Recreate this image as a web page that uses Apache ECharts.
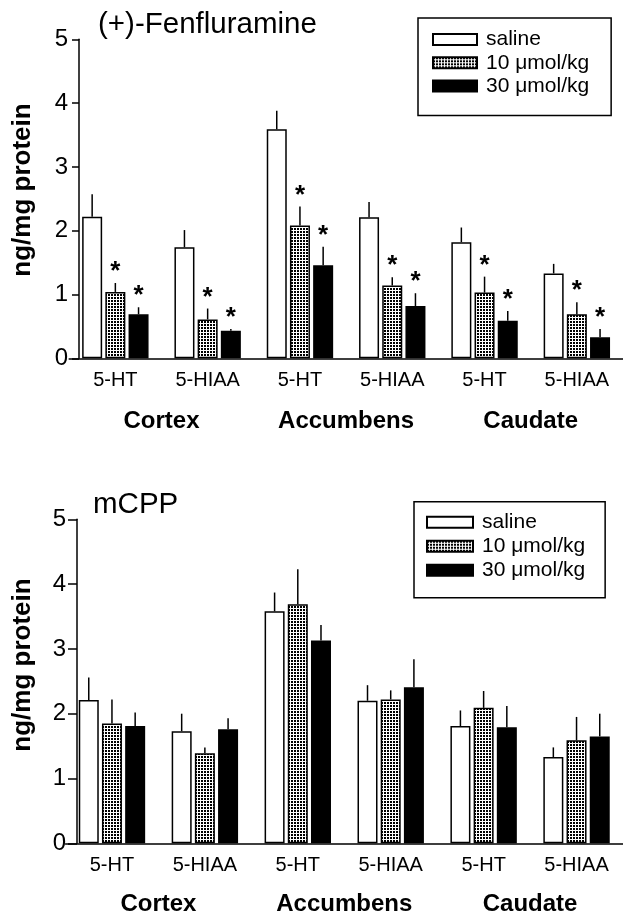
<!DOCTYPE html>
<html>
<head>
<meta charset="utf-8">
<script src="https://cdn.jsdelivr.net/npm/echarts/dist/echarts.min.js"></script>
<style>
html,body{margin:0;padding:0;background:#fff;}
#chart{width:623px;height:917px;}
</style>
</head>
<body>
<div id="chart"></div>
<script>
// ---------- data ----------
const categories = ['5-HT', '5-HIAA', '5-HT', '5-HIAA', '5-HT', '5-HIAA'];
const regions = ['Cortex', 'Accumbens', 'Caudate'];
const seriesNames = ['saline', '10 μmol/kg', '30 μmol/kg'];
const yTicks = [0, 1, 2, 3, 4, 5];
const titles = ['(+)-Fenfluramine', 'mCPP'];
const yAxisName = 'ng/mg protein';

// (+)-Fenfluramine panel
const fenSaline    = [2.22, 1.74, 3.59, 2.21, 1.82, 1.33];
const fenSalineSem = [0.35, 0.27, 0.29, 0.24, 0.23, 0.15];
const fen10        = [1.04, 0.61, 2.08, 1.14, 1.03, 0.69];
const fen10Sem     = [0.14, 0.17, 0.30, 0.13, 0.25, 0.19];
const fen30        = [0.69, 0.43, 1.46, 0.82, 0.59, 0.33];
const fen30Sem     = [0.11, 0.03, 0.29, 0.20, 0.15, 0.13];
const fenSalineStar = [0, 0, 0, 0, 0, 0];
const fen10Star     = [1, 1, 1, 1, 1, 1];
const fen30Star     = [1, 1, 1, 1, 1, 1];

// mCPP panel
const mcppSaline    = [2.21, 1.73, 3.58, 2.20, 1.81, 1.33];
const mcppSalineSem = [0.35, 0.27, 0.29, 0.24, 0.24, 0.15];
const mcpp10        = [1.85, 1.39, 3.69, 2.22, 2.09, 1.59];
const mcpp10Sem     = [0.37, 0.09, 0.54, 0.14, 0.26, 0.36];
const mcpp30        = [1.81, 1.76, 3.13, 2.41, 1.79, 1.65];
const mcpp30Sem     = [0.21, 0.17, 0.24, 0.43, 0.33, 0.35];
const mcppStar      = [0, 0, 0, 0, 0, 0];

// ---------- styling ----------
const FONT = '"Liberation Sans", Arial, Helvetica, sans-serif';
function makeDots() {
  const c = document.createElement('canvas');
  c.width = 3; c.height = 3;
  const g = c.getContext('2d');
  g.fillStyle = '#fff'; g.fillRect(0, 0, 3, 3);
  g.fillStyle = '#000';
  g.fillRect(0, 0, 2, 2);
  return c;
}
const dotPattern = { image: makeDots(), repeat: 'repeat' };
const barStyles = [
  { color: '#fff', borderColor: '#000', borderWidth: 1.5 },
  { color: dotPattern, borderColor: '#000', borderWidth: 1.5 },
  { color: '#000', borderColor: '#000', borderWidth: 1.5 }
];
const BAR_W = 20, BAR_STEP = 23.2;

function errRender(offset) {
  return function (params, api) {
    const i = api.value(0), m = api.value(1), s = api.value(2), st = api.value(3);
    const p0 = api.coord([i, m]);
    const p1 = api.coord([i, m + s]);
    const x = p0[0] + offset;
    const children = [{
      type: 'line',
      shape: { x1: x, y1: p0[1], x2: x, y2: p1[1] },
      style: { stroke: '#000', lineWidth: 1.5 }
    }];
    if (st) {
      children.push({
        type: 'text', x: x, y: p1[1] - 11,
        style: { text: '*', fill: '#000', fontSize: 26, fontWeight: 'bold', fontFamily: FONT,
                 align: 'center', verticalAlign: 'middle' }
      });
    }
    return { type: 'group', children: children };
  };
}

function rows(vals, sems, stars) {
  return vals.map((v, i) => [i, v, sems[i], stars[i]]);
}

const panels = [
  { vals: [fenSaline, fen10, fen30], sems: [fenSalineSem, fen10Sem, fen30Sem],
    stars: [fenSalineStar, fen10Star, fen30Star] },
  { vals: [mcppSaline, mcpp10, mcpp30], sems: [mcppSalineSem, mcpp10Sem, mcpp30Sem],
    stars: [mcppStar, mcppStar, mcppStar] }
];

const grids = [
  { left: 69.2, right: -7.8, top: 39.3, height: 319 },
  { left: 65.5, right: -9.5, top: 519.3, height: 324 }
];
const yOffsets = [-9.8, -11.5];
const tickLens = [7, 9];
const catMargins = [12.5, 12.5];
const regionMargins = [51, 49.5];

const xAxis = [], yAxis = [], series = [];
grids.forEach((g, gi) => {
  xAxis.push({
    gridIndex: gi, type: 'category', data: categories,
    axisLine: { lineStyle: { color: '#000', width: 1.5 } },
    axisTick: { show: false },
    axisLabel: { color: '#000', fontSize: 20, fontFamily: FONT, margin: catMargins[gi], interval: 0 }
  });
  xAxis.push({
    gridIndex: gi, type: 'category', data: regions, position: 'bottom',
    axisLine: { show: false }, axisTick: { show: false },
    axisLabel: { color: '#000', fontSize: 24, fontWeight: 'bold', fontFamily: FONT,
                 margin: regionMargins[gi], interval: 0 }
  });
  yAxis.push({
    gridIndex: gi, type: 'value', min: yTicks[0], max: yTicks[yTicks.length - 1], interval: 1,
    offset: yOffsets[gi],
    axisLine: { show: true, lineStyle: { color: '#000', width: 1.5 } },
    axisTick: { show: true, length: tickLens[gi], lineStyle: { color: '#000', width: 1.5 } },
    axisLabel: { color: '#000', fontSize: 24, fontFamily: FONT, margin: 11 },
    splitLine: { show: false }
  });
  const p = panels[gi];
  for (let k = 0; k < 3; k++) {
    series.push({
      type: 'bar', name: seriesNames[k], xAxisIndex: gi * 2, yAxisIndex: gi,
      data: p.vals[k], barWidth: BAR_W, barGap: '16%',
      itemStyle: barStyles[k], silent: true
    });
  }
  for (let k = 0; k < 3; k++) {
    series.push({
      type: 'custom', xAxisIndex: gi * 2, yAxisIndex: gi, z: 5, silent: true,
      renderItem: errRender((k - 1) * BAR_STEP),
      data: rows(p.vals[k], p.sems[k], p.stars[k])
    });
  }
});

const legendBase = {
  orient: 'vertical', icon: 'rect', data: seriesNames,
  borderColor: '#000', borderWidth: 1.5, selectedMode: false,
  textStyle: { color: '#000', fontSize: 21, fontFamily: FONT, padding: [0, 0, 0, 4] }
};

const option = {
  animation: false,
  backgroundColor: '#fff',
  title: [
    { text: titles[0], left: 98, top: 10, padding: 0,
      textStyle: { color: '#000', fontSize: 29.5, fontWeight: 'normal', fontFamily: FONT } },
    { text: titles[1], left: 93, top: 490, padding: 0,
      textStyle: { color: '#000', fontSize: 29.5, fontWeight: 'normal', fontFamily: FONT } }
  ],
  legend: [
    Object.assign({}, legendBase, { left: 418, top: 18, padding: [11, 22, 19, 14],
      itemWidth: 44, itemHeight: 11, itemGap: 2.3 }),
    Object.assign({}, legendBase, { left: 414, top: 501.7, padding: [10, 20, 17, 12],
      itemWidth: 46, itemHeight: 11, itemGap: 3 })
  ],
  grid: grids,
  xAxis: xAxis,
  yAxis: yAxis,
  series: series,
  graphic: [
    { type: 'text', x: 23, y: 190, rotation: Math.PI / 2,
      style: { text: yAxisName, fill: '#000', fontSize: 26, fontWeight: 'bold', fontFamily: FONT,
               align: 'center', verticalAlign: 'middle' } },
    { type: 'text', x: 23, y: 665, rotation: Math.PI / 2,
      style: { text: yAxisName, fill: '#000', fontSize: 26, fontWeight: 'bold', fontFamily: FONT,
               align: 'center', verticalAlign: 'middle' } }
  ]
};

const chart = echarts.init(document.getElementById('chart'), null, { renderer: 'canvas' });
chart.setOption(option);
</script>
</body>
</html>
